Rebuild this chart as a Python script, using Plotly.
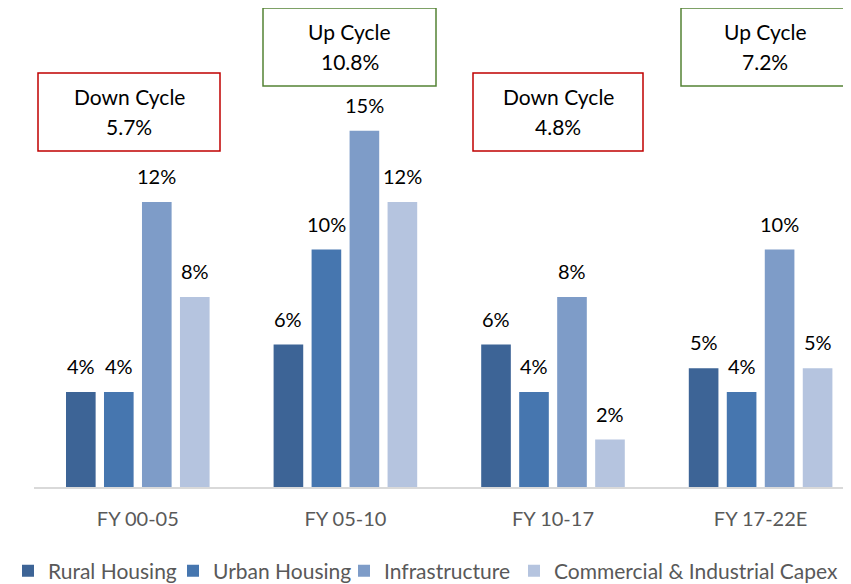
import plotly.graph_objects as go

categories = ["FY 00-05", "FY 05-10", "FY 10-17", "FY 17-22E"]
series_names = ["Rural Housing", "Urban Housing", "Infrastructure", "Commercial & Industrial Capex"]
rural = [4, 6, 6, 5]
urban = [4, 10, 4, 4]
infra = [12, 15, 8, 10]
commercial = [8, 12, 2, 5]
colors = ["#3D6496", "#4676AF", "#7E9CC8", "#B5C4DF"]

cycle_titles = ["Down Cycle", "Up Cycle", "Down Cycle", "Up Cycle"]
cycle_values = ["5.7%", "10.8%", "4.8%", "7.2%"]
cycle_colors = ["#C00000", "#548235", "#C00000", "#548235"]

FONT = "Lato"
OFF = 8  # page body margin offset
W, H = 851 - OFF, 584 - OFF
L, T = 34 - OFF, 12 - OFF
PW, PH = 817, 475
R, B = W - L - PW, H - T - PH
group_px = 207.6

legend_ids = ["legend", "legend2", "legend3", "legend4"]
legend_sym_px = [28, 201, 372, 542]  # legend swatch centres (page px)

fig = go.Figure()
all_series = [rural, urban, infra, commercial]
x_idx = list(range(len(categories)))
for name, vals, c, lg in zip(series_names, all_series, colors, legend_ids):
    fig.add_trace(go.Bar(x=x_idx, y=vals, name=name, legend=lg,
                         marker=dict(color=c, line=dict(width=0))))

bargap = 0.268
nser = len(all_series)
slot = (1 - bargap) / nser
ann = []
for j, vals in enumerate(all_series):
    for i, v in enumerate(vals):
        ann.append(dict(x=i + (j - (nser - 1) / 2) * slot, y=v, xref="x", yref="y",
                        text=f"{v}%", showarrow=False, yanchor="middle", yshift=26,
                        font=dict(family=FONT, size=20, color="#000000")))

# cycle boxes (reference pixel positions of decorations)
boxes = [(38, 220, 73, 151), (263, 436, 8, 86), (473, 643, 73, 151), (681, 849, 8, 86)]

def px2x(p):
    return (p - OFF - L) / PW

def py2y(p):
    return (T + PH - (p - OFF)) / PH

shapes = []
for (x0, x1, y0, y1), t, v, c in zip(boxes, cycle_titles, cycle_values, cycle_colors):
    shapes.append(dict(type="rect", xref="paper", yref="paper",
                       x0=px2x(x0), x1=px2x(x1), y0=py2y(y1), y1=py2y(y0),
                       line=dict(color=c, width=1.5), fillcolor="white", layer="above"))
    for txt, dy in ((t, 23), (v, 53)):
        ann.append(dict(x=px2x((x0 + x1) / 2), y=py2y(y0 + dy), xref="paper", yref="paper",
                        text=txt, showarrow=False, xanchor="center", yanchor="middle",
                        font=dict(family=FONT, size=21, color="#000000")))

legend_layout = {}
for lg, sx in zip(legend_ids, legend_sym_px):
    legend_layout[lg] = dict(orientation="h", xref="container", x=max(0.0, (sx - 28 - OFF) / W),
                             xanchor="left",
                             yref="container", y=1 - (571 - OFF) / H, yanchor="middle",
                             font=dict(family=FONT, size=21, color="#595959"), itemwidth=30,
                             bgcolor="rgba(0,0,0,0)", borderwidth=0)

fig.update_layout(
    width=W, height=H,
    margin=dict(l=L, r=R, t=T, b=B, autoexpand=False),
    paper_bgcolor="white", plot_bgcolor="white",
    barmode="group", bargap=bargap, bargroupgap=0.22,
    font=dict(family=FONT, size=20, color="#595959"),
    xaxis=dict(tickmode="array", tickvals=x_idx, ticktext=categories,
               range=[-0.5, -0.5 + PW / group_px], showline=True, linecolor="#D9D9D9",
               linewidth=1.5, showgrid=False, zeroline=False, ticks="",
               ticklabelstandoff=13, tickfont=dict(family=FONT, size=20, color="#595959")),
    yaxis=dict(range=[0, 20], visible=False),
    showlegend=True,
    shapes=shapes,
    annotations=ann,
    **legend_layout,
)

fig.write_html("out.html")
